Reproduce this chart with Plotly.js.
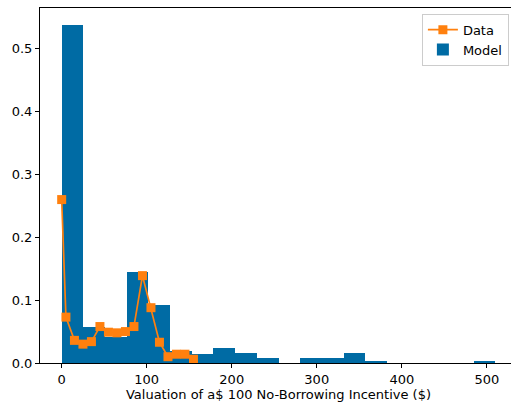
<!DOCTYPE html>
<html>
<head>
<meta charset="utf-8">
<script src="https://cdn.plot.ly/plotly-3.0.1.min.js"></script>
<style>
  html, body { margin: 0; padding: 0; overflow: hidden; background: #fff; }
  #chart { width: 520px; height: 404px; }
</style>
</head>
<body>
<div id="chart"></div>
<script>
// Histogram bins of the model: left edges (in $) and share of agents per bin
const binWidth = 25.5;
const modelBinLeft = [0, 25.5, 51, 76.5, 102, 127.5, 153, 178.5, 204, 229.5,
                      255, 280.5, 306, 331.5, 357, 382.5, 408, 433.5, 459, 484.5];
const modelShare = [0.537, 0.057, 0.041, 0.144, 0.0915, 0.019, 0.0138, 0.0246, 0.0167, 0.0072,
                    0.0, 0.0072, 0.0072, 0.0167, 0.0024, 0.0, 0.0, 0.0, 0.0, 0.0024];

// Observed survey answers: valuation ($) and share of respondents
const dataValuation = [0, 5, 15, 25, 35, 45, 55, 65, 75, 85, 95, 105, 115, 125, 135, 145, 155];
const dataShare = [0.26, 0.073, 0.036, 0.030, 0.034, 0.058, 0.049, 0.048, 0.050, 0.058,
                   0.139, 0.088, 0.033, 0.010, 0.014, 0.014, 0.006];

const xTicks = [0, 100, 200, 300, 400, 500];
const yTicks = [0.0, 0.1, 0.2, 0.3, 0.4, 0.5];

const blue = '#006BA4';
const orange = '#FF800E';

const traces = [
  {
    type: 'bar',
    name: 'Model',
    x: modelBinLeft,
    y: modelShare,
    width: modelBinLeft.map(() => binWidth),
    offset: 0,
    marker: { color: blue, line: { width: 0 } },
    legendrank: 2,
    hoverinfo: 'x+y'
  },
  {
    type: 'scatter',
    mode: 'lines+markers',
    name: 'Data',
    x: dataValuation,
    y: dataShare,
    line: { color: orange, width: 1.7 },
    marker: { color: orange, symbol: 'square', size: 9 },
    legendrank: 1
  }
];

const axisFont = { family: 'DejaVu Sans', size: 13, color: '#000' };

const layout = {
  width: 520,
  height: 404,
  margin: { l: 40, r: 3, t: 8, b: 41 },
  paper_bgcolor: '#fff',
  plot_bgcolor: '#fff',
  font: axisFont,
  bargap: 0,
  showlegend: true,
  legend: {
    x: 0.983, y: 0.984, xanchor: 'right', yanchor: 'top',
    bgcolor: 'rgba(255,255,255,0.8)',
    bordercolor: '#cccccc', borderwidth: 1,
    font: { family: 'DejaVu Sans', size: 13, color: '#000' },
    tracegroupgap: 0
  },
  xaxis: {
    range: [-25.5, 535.5],
    tickvals: xTicks,
    ticktext: xTicks.map(String),
    ticks: 'outside', ticklen: 4, tickwidth: 1, tickcolor: '#000',
    showline: true, linecolor: '#000', linewidth: 1, mirror: true,
    showgrid: false, zeroline: false,
    tickfont: axisFont,
    title: { text: 'Valuation of a$ 100 No-Borrowing Incentive ($)', font: axisFont, standoff: 3 }
  },
  yaxis: {
    range: [0, 0.5648],
    tickvals: yTicks,
    ticktext: yTicks.map(v => v.toFixed(1)),
    ticks: 'outside', ticklen: 4, tickwidth: 1, tickcolor: '#000',
    showline: true, linecolor: '#000', linewidth: 1, mirror: true,
    showgrid: false, zeroline: false,
    tickfont: axisFont
  }
};

Plotly.newPlot('chart', traces, layout, { displayModeBar: false, staticPlot: true });
</script>
</body>
</html>
